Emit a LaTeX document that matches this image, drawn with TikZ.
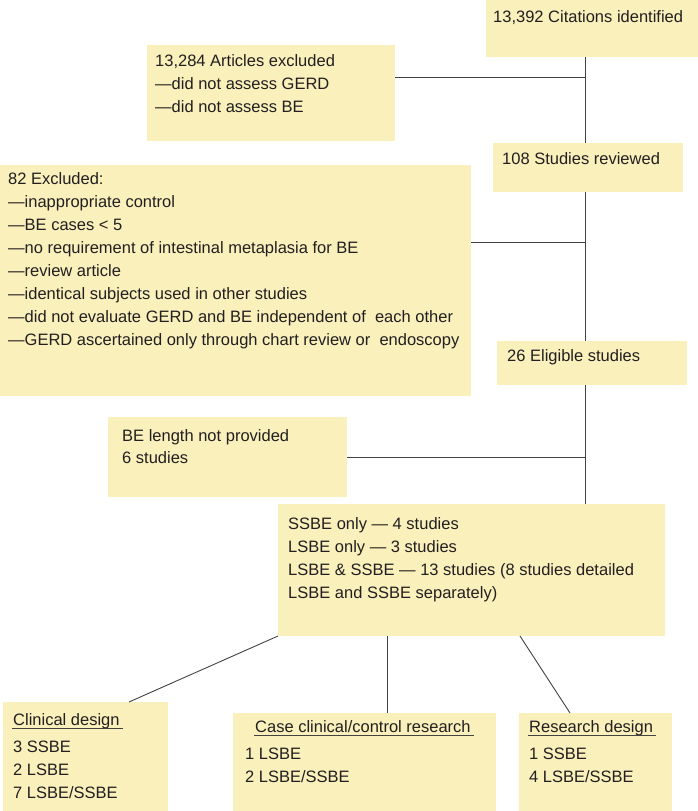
\documentclass[tikz,border=0pt]{standalone}
\usepackage{fontspec}
\setmainfont{Liberation Sans}
\definecolor{boxfill}{RGB}{250,240,188}
\definecolor{ink}{RGB}{35,31,32}
\tikzset{
  box/.style = {fill=boxfill, inner sep=0pt, outer sep=0pt, anchor=north west},
  txt/.style = {anchor=base west, inner sep=0pt, align=left, text=ink,
    font=\fontsize{16.5}{23}\selectfont},
  link/.style = {draw=ink!85, line width=0.9pt}
}

\begin{document}
\begin{tikzpicture}[x=1pt,y=-1pt]
  \useasboundingbox (0,0) rectangle (698,811);
  \coordinate (spine) at (585,0);
  % boxes
  \node[box, minimum width=212pt, minimum height=57pt]  (cit)   at (486,0)   {};
  \node[box, minimum width=248pt, minimum height=96pt]  (art)   at (147,45)  {};
  \node[box, minimum width=190pt, minimum height=49pt]  (rev)   at (493,143) {};
  \node[box, minimum width=471pt, minimum height=231pt] (exc)   at (0,165)   {};
  \node[box, minimum width=190pt, minimum height=44pt]  (elig)  at (497,341) {};
  \node[box, minimum width=239pt, minimum height=80pt]  (nolen) at (108,417) {};
  \node[box, minimum width=387pt, minimum height=132pt] (len)   at (278,504) {};
  \node[box, minimum width=165pt, minimum height=109pt] (cd)    at (3,702)   {};
  \node[box, minimum width=263pt, minimum height=98pt]  (cc)    at (233,713) {};
  \node[box, minimum width=153pt, minimum height=98pt]  (rd)    at (519,713) {};
  % texts (base = last line)
  \node[txt] at ([shift={(7,22)}]cit.north west) {13,392 Citations identified};
  \node[txt] at ([shift={(8,67)}]art.north west) {13,284 Articles excluded\\—did not assess GERD\\—did not assess BE};
  \node[txt] at ([shift={(9,21)}]rev.north west) {108 Studies reviewed};
  \node[txt, font=\fontsize{16.5}{22.86}\selectfont] at ([shift={(8,180)}]exc.north west)
    {82 Excluded:\\—inappropriate control\\—BE cases < 5\\—no requirement of intestinal metaplasia for BE\\—review article\\—identical subjects used in other studies\\—did not evaluate GERD and BE independent of\ \ each other\\—GERD ascertained only through chart review or\ \ endoscopy};
  \node[txt] at ([shift={(10,20)}]elig.north west) {26 Eligible studies};
  \node[txt, font=\fontsize{16.5}{22}\selectfont] at ([shift={(14,46)}]nolen.north west) {BE length not provided\\6 studies};
  \node[txt] at ([shift={(10,94)}]len.north west)
    {SSBE only — 4 studies\\LSBE only — 3 studies\\LSBE \& SSBE — 13 studies (8 studies detailed\\LSBE and SSBE separately)};
  \node[txt] (cdT) at ([shift={(10,23)}]cd.north west) {Clinical design};
  \node[txt] at ([shift={(10,96)}]cd.north west) {3 SSBE\\2 LSBE\\7 LSBE/SSBE};
  \node[txt] (ccT) at ([shift={(22,19)}]cc.north west) {Case clinical/control research};
  \node[txt] at ([shift={(12,69)}]cc.north west) {1 LSBE\\2 LSBE/SSBE};
  \node[txt] (rdT) at ([shift={(10,19)}]rd.north west) {Research design};
  \node[txt] at ([shift={(10,69)}]rd.north west) {1 SSBE\\4 LSBE/SSBE};
  \foreach \t in {cdT,ccT,rdT}
    \draw[link, line width=0.8pt] ([yshift=-3pt,xshift=-1pt]\t.base west) -- ([yshift=-3pt,xshift=3pt]\t.base east);
  % connectors
  \draw[link] (cit.south -| spine) -- (rev.north -| spine);
  \draw[link] (rev.south -| spine) -- (elig.north -| spine);
  \draw[link] (elig.south -| spine) -- (len.north -| spine);
  \draw[link] ([yshift=-32pt]art.north east) coordinate (artR) -- (artR -| spine);
  \draw[link] ([yshift=-77pt]exc.north east) coordinate (excR) -- (excR -| spine);
  \draw[link] (nolen.east) -- (nolen.east -| spine);
  \draw[link] (len.south west) -- ([xshift=-39pt]cd.north east);
  \draw[link] ([xshift=109pt]len.south west) coordinate (lenM) -- (lenM |- cc.north);
  \draw[link] ([xshift=242pt]len.south west) -- ([xshift=51pt]rd.north west);
\end{tikzpicture}
\end{document}
